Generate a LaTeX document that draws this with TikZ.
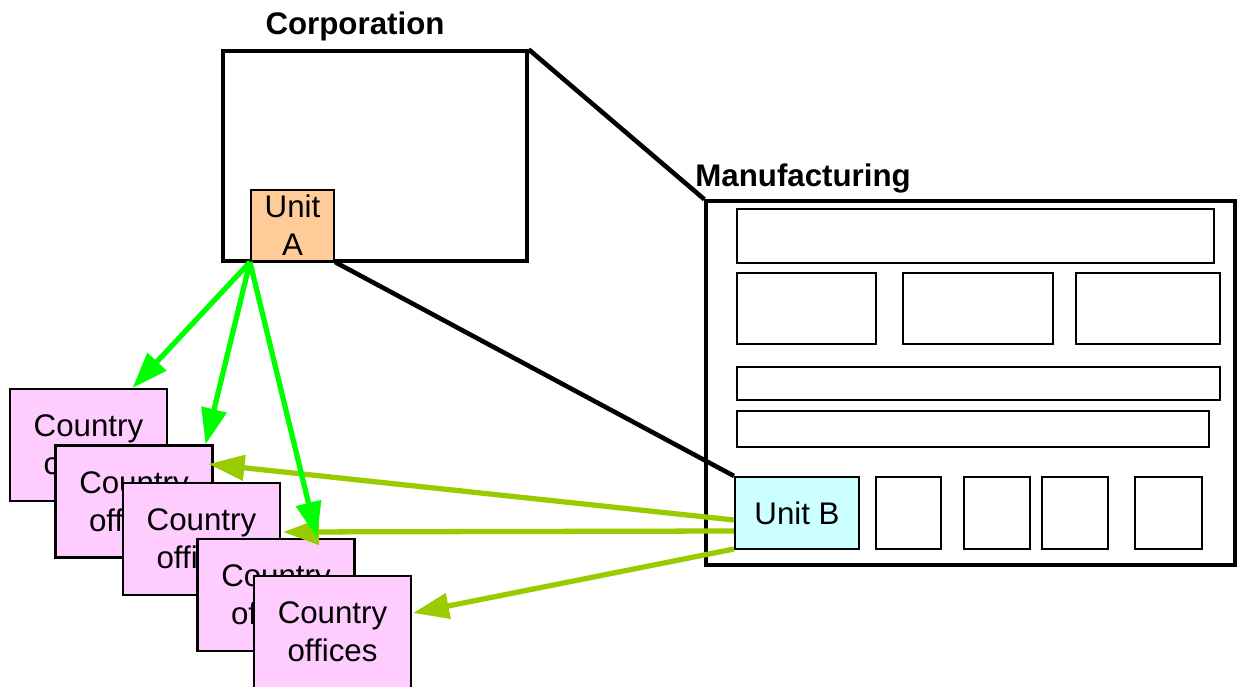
\documentclass[tikz,border=0pt]{standalone}
\usepackage{fontspec}
\setmainfont{Liberation Sans}
\usetikzlibrary{calc}
\usetikzlibrary{positioning}
\usetikzlibrary{arrows.meta}
\definecolor{unitAfill}{HTML}{FFCC99}
\definecolor{unitBfill}{HTML}{CCFFFF}
\definecolor{officefill}{HTML}{FFCCFF}
\definecolor{brightgreen}{HTML}{00FF00}
\definecolor{limegreen}{HTML}{99CC00}
\tikzset{
	orgbox/.style={
		rectangle,
		draw=black, line width=1.9pt,
		inner sep=0pt},
	part/.style={
		rectangle,
		draw=black, line width=1.2pt,
		inner sep=0pt},
	unit/.style={
		part,
		font=\fontsize{17.8}{21.8}\selectfont,
		align=center},
	office/.style={
		rectangle,
		fill=officefill,
		draw=black, line width=1.2pt,
		minimum width=3.14cm,
		minimum height=2.24cm,
		inner sep=0pt,
		font=\fontsize{17.8}{21.8}\selectfont,
		align=center},
	heading/.style={font=\fontsize{17.8}{21.8}\selectfont\bfseries, inner sep=0pt},
	zoomline/.style={draw, line width=2.6pt},
	spread/.style={draw=brightgreen, line width=3pt, -{Triangle[length=0.72cm,width=0.5cm]}},
	feed/.style={draw=limegreen, line width=3pt, -{Triangle[length=0.72cm,width=0.5cm]}},
}

\begin{document}
\begin{tikzpicture}
	[x=0.02cm, y=-0.02cm]
	\useasboundingbox (0,0) rectangle (1240,686);

	% corporation
	\node[orgbox, minimum width=6.08cm, minimum height=4.2cm] (corp) at (375,156) {};
	\node[heading, anchor=base] (corptitle) at (355,35) {Corporation};
	\node[unit, fill=unitAfill, minimum width=1.66cm, minimum height=1.42cm] (unitA) at (292.5,225.5) {Unit\\A};

	% manufacturing
	\node[orgbox, minimum width=10.58cm, minimum height=7.28cm] (manuf) at (970.5,383) {};
	\node[heading, anchor=base west] (manuftitle) at (695,186) {Manufacturing};
	\node[part, minimum width=9.54cm, minimum height=1.08cm] (rowone) at (975.5,236) {};
	\node[part, minimum width=2.78cm, minimum height=1.42cm] (rowtwoa) at (806.5,308.5) {};
	\node[part, minimum width=3.0cm, minimum height=1.42cm] (rowtwob) at (978,308.5) {};
	\node[part, minimum width=2.88cm, minimum height=1.42cm] (rowtwoc) at (1148,308.5) {};
	\node[part, minimum width=9.66cm, minimum height=0.66cm] (rowthree) at (978.5,383.5) {};
	\node[part, minimum width=9.44cm, minimum height=0.72cm] (rowfour) at (973,429) {};
	\node[unit, fill=unitBfill, minimum width=2.48cm, minimum height=1.44cm] (unitB) at (797,513) {Unit B};
	\node[part, minimum width=1.3cm, minimum height=1.44cm] (smalla) at (908.5,513) {};
	\node[part, minimum width=1.32cm, minimum height=1.44cm] (smallb) at (997,513) {};
	\node[part, minimum width=1.32cm, minimum height=1.44cm] (smallc) at (1075,513) {};
	\node[part, minimum width=1.34cm, minimum height=1.44cm] (smalld) at (1168.5,513) {};

	% country offices
	\node[office] (coone) at (88.5,445) {Country\\offices};
	\node[office] (cotwo) at (134,501.5) {Country\\offices};
	\node[office] (cothree) at (201.5,539) {Country\\offices};
	\node[office] (cofour) at (276,595) {Country\\offices};
	\node[office] (cofive) at (332.5,632) {Country\\offices};

	\draw[zoomline] (corp.north east) -- (manuf.north west);
	\draw[zoomline] (unitA.south east) -- (unitB.north west);

	\draw[feed] ($(unitB.west)+(0,7)$) -- ($(cotwo.east)+(-5,-37.5)$);
	\draw[feed] ($(unitB.west)+(0,18)$) -- ($(cothree.east)+(2,-7)$);
	\draw[feed] ($(unitB.west)+(0,36)$) -- ($(cofive.east)+(1,-19)$);

	\draw[spread] (unitA.south west) -- ($(coone.north)+(44,0)$);
	\draw[spread] (unitA.south west) -- ($(cotwo.north east)+(-8,0)$);
	\draw[spread] (unitA.south west) -- ($(cofour.north)+(41,0)$);
\end{tikzpicture}
\end{document}
